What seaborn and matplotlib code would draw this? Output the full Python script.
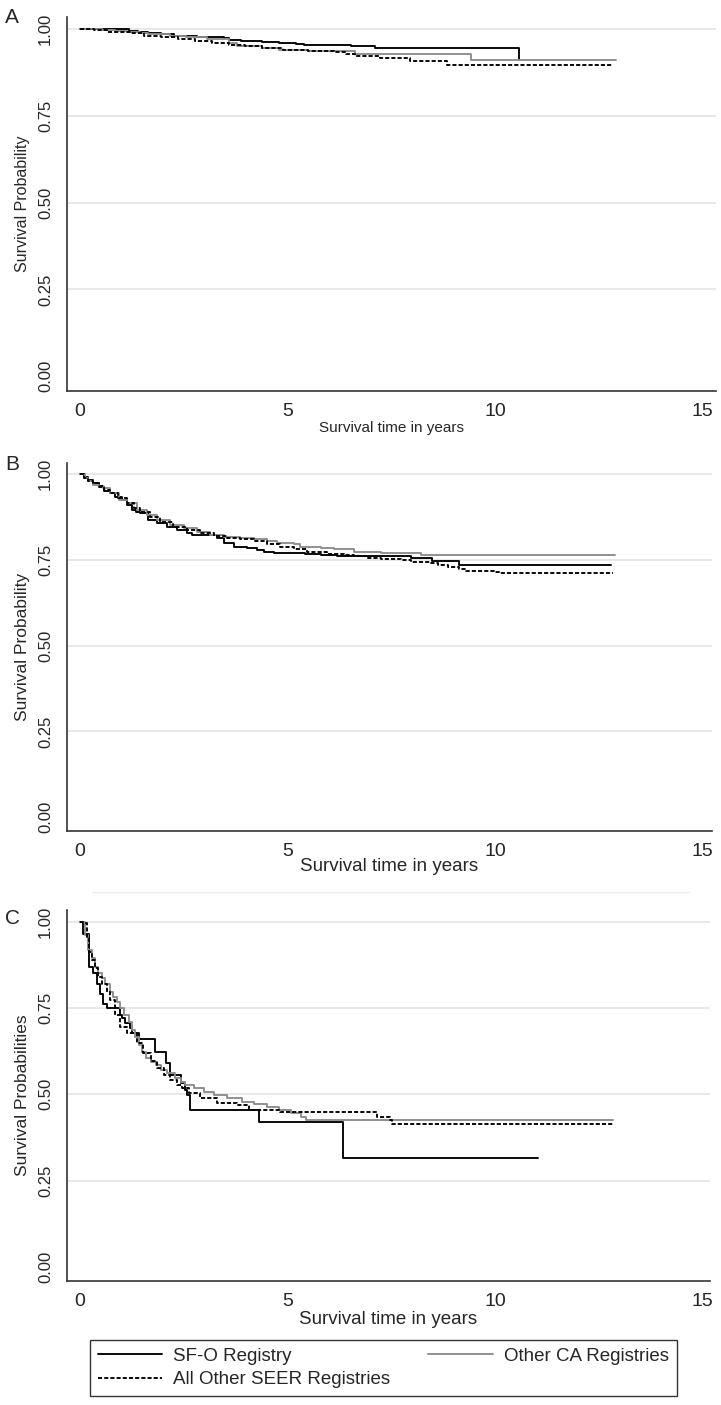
import pandas as pd
import matplotlib.pyplot as plt
from matplotlib.lines import Line2D
import seaborn as sns

# 1. DATA (Kaplan-Meier step points: time in years, survival)
# ----------------------------------------------------------------------------------
groups = ["SF-O Registry", "Other CA Registries", "All Other SEER Registries"]

# Panel A
a_sfo_t = [0, 1.19, 1.40, 1.65, 1.95, 2.26, 2.82, 3.17, 3.47, 3.58, 3.88, 4.39, 4.79,
           5.20, 5.40, 6.52, 7.10, 10.57]
a_sfo_s = [1.0, 0.996, 0.991, 0.988, 0.986, 0.982, 0.979, 0.977, 0.974, 0.970, 0.967,
           0.964, 0.961, 0.958, 0.956, 0.952, 0.945, 0.911]
a_ca_t = [0, 0.53, 0.84, 1.14, 1.45, 1.65, 2.16, 2.56, 3.07, 3.58, 3.78, 4.39, 4.79,
          5.50, 6.62, 9.41, 12.91]
a_ca_s = [1.0, 0.998, 0.995, 0.993, 0.988, 0.986, 0.982, 0.977, 0.971, 0.960, 0.952,
          0.945, 0.940, 0.938, 0.930, 0.911, 0.911]
a_seer_t = [0, 0.33, 0.64, 0.94, 1.24, 1.55, 1.95, 2.36, 2.76, 3.17, 3.58, 3.98, 4.39,
            4.89, 5.50, 6.11, 6.42, 6.62, 7.23, 7.94, 8.85, 12.81]
a_seer_s = [1.0, 0.998, 0.993, 0.991, 0.988, 0.980, 0.977, 0.972, 0.966, 0.961, 0.956,
            0.952, 0.946, 0.941, 0.937, 0.935, 0.928, 0.923, 0.918, 0.908, 0.898, 0.898]

# Panel B
b_sfo_t = [0, 0.10, 0.20, 0.32, 0.45, 0.58, 0.72, 0.85, 1.01, 1.13, 1.25, 1.35, 1.45,
           1.63, 1.65, 1.85, 2.09, 2.33, 2.58, 2.70, 3.30, 3.46, 3.70, 4.03, 4.27, 4.43,
           4.67, 5.15, 5.43, 5.80, 6.20, 7.97, 8.47, 9.14, 12.80]
b_sfo_s = [1.0, 0.992, 0.982, 0.974, 0.962, 0.950, 0.945, 0.934, 0.925, 0.910, 0.896,
           0.889, 0.886, 0.876, 0.866, 0.857, 0.847, 0.838, 0.830, 0.823, 0.815, 0.799,
           0.789, 0.784, 0.779, 0.774, 0.771, 0.769, 0.768, 0.765, 0.763, 0.755, 0.747,
           0.735, 0.735]
b_ca_t = [0, 0.12, 0.20, 0.32, 0.45, 0.56, 0.72, 0.93, 1.13, 1.37, 1.61, 1.85, 2.17,
          2.50, 2.82, 3.14, 3.46, 3.86, 4.19, 4.51, 4.75, 5.15, 5.31, 5.80, 6.12, 6.52,
          6.60, 7.25, 8.21, 12.88]
b_ca_s = [1.0, 0.990, 0.979, 0.969, 0.965, 0.959, 0.945, 0.925, 0.915, 0.896, 0.881,
          0.867, 0.852, 0.842, 0.833, 0.823, 0.816, 0.813, 0.810, 0.806, 0.799, 0.796,
          0.789, 0.784, 0.782, 0.781, 0.774, 0.771, 0.764, 0.764]
b_seer_t = [0, 0.10, 0.20, 0.32, 0.45, 0.58, 0.72, 0.92, 1.13, 1.30, 1.45, 1.69, 1.93,
            2.25, 2.58, 2.90, 3.22, 3.54, 3.86, 4.19, 4.51, 4.83, 5.15, 5.48, 5.96, 6.36,
            6.60, 6.92, 7.25, 7.73, 7.97, 8.45, 8.62, 8.86, 9.14, 9.30, 9.98, 10.10, 12.84]
b_seer_s = [1.0, 0.990, 0.980, 0.974, 0.965, 0.955, 0.946, 0.930, 0.915, 0.902, 0.891,
            0.876, 0.862, 0.847, 0.838, 0.828, 0.820, 0.813, 0.810, 0.804, 0.797, 0.789,
            0.781, 0.774, 0.768, 0.765, 0.762, 0.755, 0.752, 0.750, 0.745, 0.742, 0.735,
            0.729, 0.723, 0.719, 0.716, 0.711, 0.711]

# Panel C
c_sfo_t = [0, 0.08, 0.226, 0.323, 0.404, 0.484, 0.565, 0.662, 0.952, 1.01, 1.09, 1.21,
           1.25, 1.41, 1.81, 2.07, 2.17, 2.43, 2.53, 2.58, 2.66, 4.32, 6.34, 11.03]
c_sfo_s = [1.0, 0.963, 0.870, 0.850, 0.821, 0.792, 0.763, 0.751, 0.730, 0.722, 0.706,
           0.691, 0.677, 0.659, 0.624, 0.590, 0.556, 0.532, 0.513, 0.498, 0.455, 0.421,
           0.315, 0.315]
c_ca_t = [0, 0.121, 0.202, 0.283, 0.363, 0.444, 0.525, 0.605, 0.726, 0.807, 0.888, 0.952,
          1.05, 1.17, 1.25, 1.33, 1.41, 1.49, 1.60, 1.70, 1.82, 1.94, 2.10, 2.30, 2.44,
          2.54, 2.74, 2.99, 3.23, 3.55, 3.91, 4.20, 4.50, 4.80, 5.08, 5.32, 5.45, 12.85]
c_ca_s = [1.0, 0.961, 0.918, 0.894, 0.870, 0.850, 0.836, 0.821, 0.797, 0.783, 0.768,
          0.751, 0.730, 0.710, 0.686, 0.667, 0.643, 0.624, 0.606, 0.595, 0.585, 0.570,
          0.561, 0.546, 0.535, 0.527, 0.517, 0.508, 0.498, 0.488, 0.479, 0.472, 0.464,
          0.455, 0.447, 0.435, 0.427, 0.427]
c_seer_t = [0, 0.08, 0.16, 0.226, 0.283, 0.363, 0.444, 0.525, 0.646, 0.726, 0.847, 0.968,
            1.13, 1.37, 1.53, 1.70, 1.86, 2.02, 2.18, 2.34, 2.46, 2.62, 2.90, 3.31, 3.79,
            4.08, 4.83, 7.16, 7.48, 7.53, 12.85]
c_seer_s = [1.0, 0.995, 0.952, 0.913, 0.889, 0.865, 0.841, 0.821, 0.797, 0.773, 0.730,
            0.696, 0.677, 0.648, 0.619, 0.597, 0.575, 0.556, 0.542, 0.527, 0.517, 0.503,
            0.488, 0.476, 0.469, 0.454, 0.449, 0.433, 0.425, 0.415, 0.415]

y_ticks = [0, 0.25, 0.5, 0.75, 1.0]
y_ticklabels = ["0.00", "0.25", "0.50", "0.75", "1.00"]
x_ticks = [0, 5, 10, 15]
x_ticklabels = ["0", "5", "10", "15"]


def panel_df(sfo_t, sfo_s, ca_t, ca_s, seer_t, seer_s):
    parts = []
    for name, t, s in zip(groups, [sfo_t, ca_t, seer_t], [sfo_s, ca_s, seer_s]):
        parts.append(pd.DataFrame({"time": t, "surv": s, "group": name}))
    return pd.concat(parts, ignore_index=True)


panels = [
    ("A", panel_df(a_sfo_t, a_sfo_s, a_ca_t, a_ca_s, a_seer_t, a_seer_s), "Survival Probability"),
    ("B", panel_df(b_sfo_t, b_sfo_s, b_ca_t, b_ca_s, b_seer_t, b_seer_s), "Survival Probability"),
    ("C", panel_df(c_sfo_t, c_sfo_s, c_ca_t, c_ca_s, c_seer_t, c_seer_s), "Survival Probabilities"),
]

# 2. STYLE
# --------
sns.set_style("white")
plt.rcParams["font.family"] = ["Liberation Sans", "DejaVu Sans"]

palette = {groups[0]: "black", groups[1]: "#8c8c8c", groups[2]: "black"}
dashes = {groups[0]: "", groups[1]: "", groups[2]: (2.2, 1.1)}
axis_col = "#333333"
grid_col = "#e4e4e4"

W, H = 721, 1405
fig = plt.figure(figsize=(W / 100, H / 100), dpi=100)

# axes boxes in pixels: left, right, top, bottom ; y pixel of 1.00 and 0.00 ; x-label top
boxes = [
    dict(l=67, r=716, t=17, b=391, y1=29.3, y0=376.1, lab_top=421, lab_fs=11, ylab_fs=11.5, letter_y=8),
    dict(l=67, r=712, t=463, b=831, y1=474.3, y0=817.1, lab_top=858, lab_fs=13.5, ylab_fs=12.5, letter_y=455),
    dict(l=67, r=710, t=910, b=1281, y1=921.7, y0=1267.0, lab_top=1311, lab_fs=13.5, ylab_fs=12.5, letter_y=909),
]

for (letter, df, ylab), bx in zip(panels, boxes):
    ax = fig.add_axes([bx["l"] / W, 1 - bx["b"] / H, (bx["r"] - bx["l"]) / W, (bx["b"] - bx["t"]) / H])
    px_per_unit = bx["y0"] - bx["y1"]
    ax.set_ylim(-(bx["b"] - bx["y0"]) / px_per_unit, 1 + (bx["y1"] - bx["t"]) / px_per_unit)
    ax.set_xlim((67 - 80) / 41.5, (bx["r"] - 80) / 41.5)

    for v in y_ticks[1:]:
        ax.axhline(v, color=grid_col, lw=1.2, zorder=0)

    sns.lineplot(data=df, x="time", y="surv", hue="group", style="group",
                 hue_order=groups, style_order=groups, palette=palette, dashes=dashes,
                 drawstyle="steps-post", estimator=None, sort=False, lw=1.35,
                 legend=False, ax=ax)

    sns.despine(ax=ax)
    for sp in ["left", "bottom"]:
        ax.spines[sp].set_color(axis_col)
        ax.spines[sp].set_linewidth(1.2)

    ax.set_yticks(y_ticks)
    ax.set_yticklabels(y_ticklabels, rotation=90, va="center")
    ax.set_xticks(x_ticks)
    ax.set_xticklabels(x_ticklabels)
    ax.tick_params(axis="y", length=7, width=1.1, color=axis_col, labelsize=12, pad=3)
    ax.tick_params(axis="x", length=5, width=1.1, color=axis_col, labelsize=14, pad=4)

    ax.set_xlabel("Survival time in years", fontsize=bx["lab_fs"], va="top")
    ax.xaxis.set_label_coords(0.5, -(bx["lab_top"] - bx["b"]) / (bx["b"] - bx["t"]))
    ax.set_ylabel(ylab, fontsize=bx["ylab_fs"])
    ax.yaxis.set_label_coords(-(67 - 30) / (bx["r"] - bx["l"]), 0.5)

    fig.text(5 / W, 1 - bx["letter_y"] / H, letter, fontsize=15, ha="left", va="top")

# faint separator line above panel C
fig.add_artist(Line2D([92 / W, 689 / W], [1 - 892 / H, 1 - 892 / H], color="#ececec", lw=1))

# 3. LEGEND
# ---------
handles = [
    Line2D([], [], color="black", lw=1.35),
    Line2D([], [], color="black", lw=1.35, dashes=(2.2, 1.1)),
    Line2D([], [], color="#8c8c8c", lw=1.35),
]
labels = [groups[0], groups[2], groups[1]]
leg = fig.legend(handles, labels, ncol=2, loc="upper left",
                 bbox_to_anchor=(90 / W, 1 - 1340 / H), fontsize=13.5,
                 frameon=True, fancybox=False, edgecolor="black",
                 handlelength=3.45, handletextpad=0.6, columnspacing=2.0,
                 borderpad=0.4, labelspacing=0.36, borderaxespad=0)
leg.get_frame().set_linewidth(1.0)

plt.savefig("out.png", dpi=100)
